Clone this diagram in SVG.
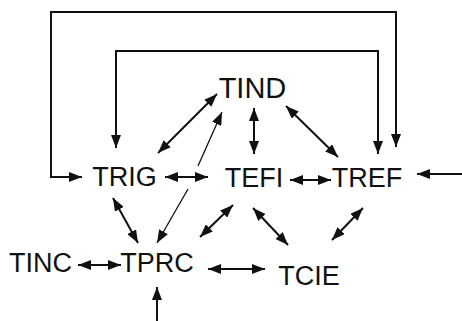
<svg xmlns="http://www.w3.org/2000/svg" width="462" height="321" viewBox="0 0 462 321">
<style>
text{font-family:"Liberation Sans",Arial,sans-serif;font-size:27px;fill:#111;text-anchor:middle}
.c{stroke:#111;stroke-width:2;fill:none}
.t{stroke-width:1.3}
.b{marker-start:url(#ah);marker-end:url(#ah)}
.e{marker-end:url(#ah)}
</style>
<defs>
<marker id="ah" viewBox="0 0 13 10" refX="13" refY="5" markerWidth="13" markerHeight="10" markerUnits="userSpaceOnUse" orient="auto-start-reverse">
<path d="M0,0 L13,5 L0,10 z" fill="#111"/>
</marker>
</defs>
<g id="connectors">
<path class="c b" d="M82,177 H51 V12 H396 V147"/>
<path class="c b" d="M116,148 V51 H378 V154"/>
<line class="c b" x1="158" y1="153" x2="217" y2="94"/>
<line class="c t e" x1="198" y1="166" x2="222" y2="112"/>
<line class="c t e" x1="188" y1="189" x2="157" y2="243"/>
<line class="c b" x1="254" y1="108" x2="254" y2="154"/>
<line class="c b" x1="286" y1="106" x2="338" y2="157"/>
<line class="c b" x1="165" y1="177" x2="208" y2="177"/>
<line class="c b" x1="290" y1="180" x2="331" y2="180"/>
<path class="c e" d="M462,174 H417"/>
<line class="c b" x1="113" y1="198" x2="138" y2="243"/>
<line class="c b" x1="200" y1="237" x2="233" y2="205"/>
<line class="c b" x1="253" y1="208" x2="288" y2="245"/>
<line class="c b" x1="363" y1="208" x2="332" y2="240"/>
<line class="c b" x1="78" y1="265" x2="121" y2="265"/>
<line class="c b" x1="208" y1="269" x2="265" y2="269"/>
<path class="c e" d="M157,321 V287"/>
</g>
<g id="TIND"><text x="252.5" y="98" style="font-size:29px">TIND</text></g>
<g id="TRIG"><text x="124.5" y="186">TRIG</text></g>
<g id="TEFI"><text x="254" y="187">TEFI</text></g>
<g id="TREF"><text x="367" y="187">TREF</text></g>
<g id="TINC"><text x="40.5" y="272">TINC</text></g>
<g id="TPRC"><text x="157" y="272">TPRC</text></g>
<g id="TCIE"><text x="309" y="285">TCIE</text></g>
</svg>
